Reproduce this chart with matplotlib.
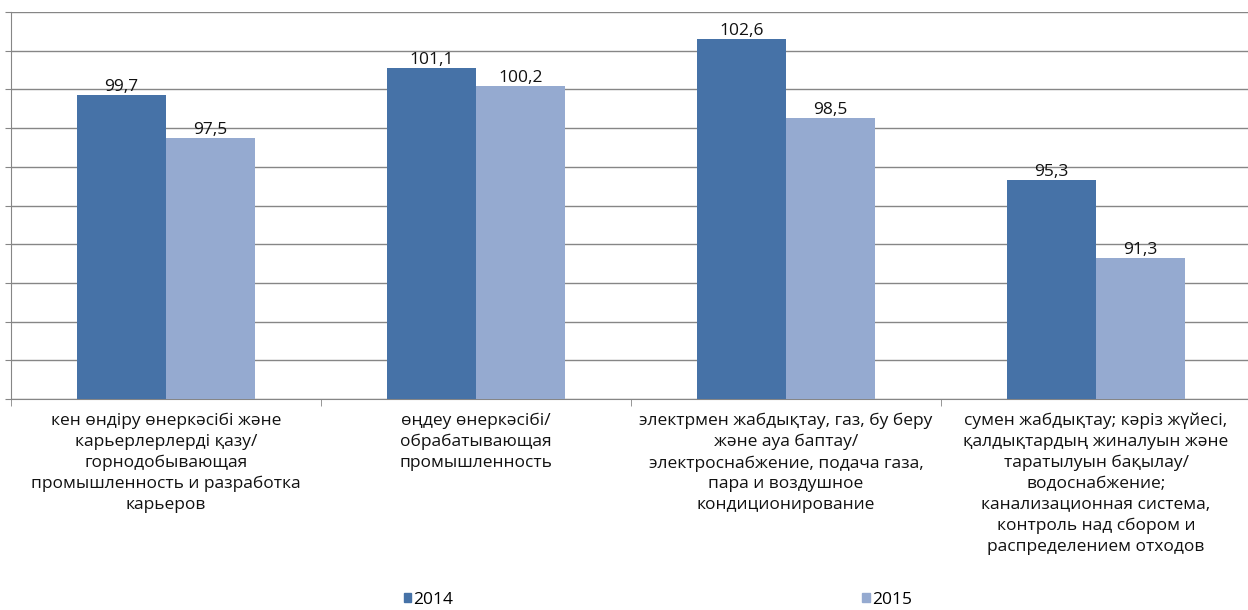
import numpy as np
import matplotlib.pyplot as plt
from matplotlib.patches import Patch

plt.rcParams['font.family'] = ['Open Sans', 'DejaVu Sans']

# данные
categories = [
    'кен өндіру өнеркәсібі және\nкарьерлерлерді қазу/\nгорнодобывающая\nпромышленность и разработка\nкарьеров',
    'өңдеу өнеркәсібі/\nобрабатывающая\nпромышленность',
    'электрмен жабдықтау, газ, бу беру\nжәне ауа баптау/\nэлектроснабжение, подача газа,\nпара и воздушное\nкондиционирование',
    'сумен жабдықтау; кәріз жүйесі,\nқалдықтардың жиналуын және\nтаратылуын бақылау/\nводоснабжение;\nканализационная система,\nконтроль над сбором и\nраспределением отходов',
]
series_names = ['2014', '2015']
vals_2014 = [99.7, 101.1, 102.6, 95.3]
vals_2015 = [97.5, 100.2, 98.5, 91.3]
value_labels_2014 = ['99,7', '101,1', '102,6', '95,3']
value_labels_2015 = ['97,5', '100,2', '98,5', '91,3']

c2014 = '#4672A7'
c2015 = '#95AAD0'
grid_c = '#868686'
fs = 12.5

W, H = 1248, 610
fig = plt.figure(figsize=(W / 100, H / 100), dpi=100)
ax = fig.add_axes([11 / W, 1 - 399 / H, (1251 - 11) / W, (399 - 12) / H])

x = np.arange(len(categories))
bw = 0.286
b1 = ax.bar(x - bw / 2, vals_2014, bw, color=c2014, zorder=3)
b2 = ax.bar(x + bw / 2, vals_2015, bw, color=c2015, zorder=3)

for bars, labs in ((b1, value_labels_2014), (b2, value_labels_2015)):
    for r, lab in zip(bars, labs):
        ax.annotate(lab, (r.get_x() + r.get_width() / 2, r.get_height()),
                    xytext=(0, 0), textcoords='offset points',
                    ha='center', va='bottom', fontsize=fs, color='#111111')

ax.set_xlim(-0.5, 3.5)
ax.set_ylim(84, 104)
ax.set_yticks(np.arange(84, 105, 2))
ax.set_yticklabels([])
ax.yaxis.grid(True, color=grid_c, linewidth=1, zorder=0)
ax.tick_params(axis='y', length=4, color=grid_c, direction='out')

ax.set_xticks(x)
ax.set_xticklabels(categories, fontsize=fs, color='#111111', linespacing=1.39)
ax.tick_params(axis='x', length=0, pad=10)
ax.set_xticks(np.arange(-0.5, 3.6, 1), minor=True)
ax.tick_params(axis='x', which='minor', length=5, color=grid_c, direction='out')

for s in ('top', 'right'):
    ax.spines[s].set_visible(False)
for s in ('left', 'bottom'):
    ax.spines[s].set_color(grid_c)

handles = [Patch(color=c2014), Patch(color=c2015)]
fig.legend(handles, series_names, loc='center', bbox_to_anchor=(658 / W, 1 - 600 / H),
           ncol=2, frameon=False, fontsize=fs, handlelength=0.45, handleheight=0.45,
           handletextpad=0.12, columnspacing=23.55, borderpad=0)

fig.savefig('out.png', dpi=100)
